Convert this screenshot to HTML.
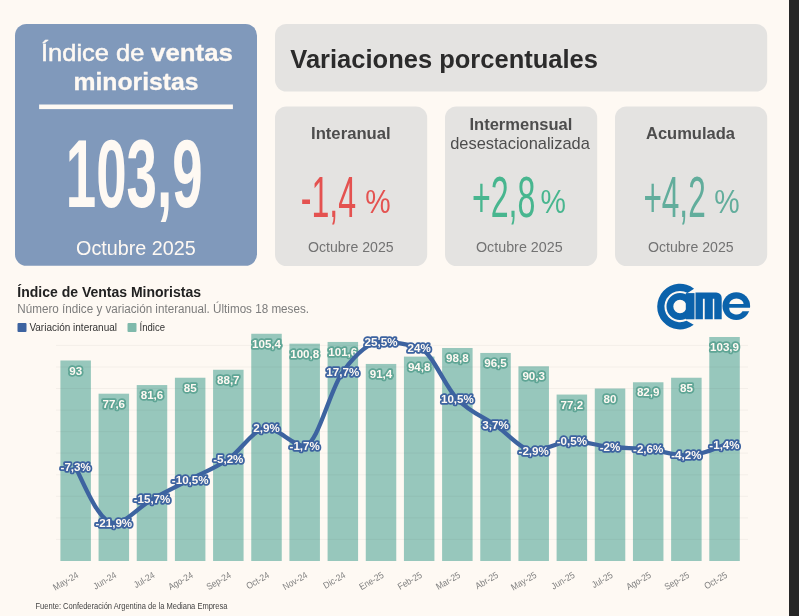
<!DOCTYPE html>
<html lang="es"><head><meta charset="utf-8"><title>Índice de ventas minoristas</title>
<style>html,body{margin:0;padding:0;background:#fef9f3;}body{width:799px;height:616px;overflow:hidden;font-family:"Liberation Sans",sans-serif;}svg{display:block;opacity:0.999;font-family:"Liberation Sans",sans-serif;}text{white-space:pre;}</style>
</head><body>
<svg width="799" height="616" viewBox="0 0 799 616">
<rect x="0" y="0" width="799" height="616" fill="#fef9f3"/>
<rect x="789.0" y="0" width="10.5" height="616" fill="#262626"/>
<rect x="15" y="24" width="242" height="241.8" rx="11.5" fill="#8099bb"/>
<g fill="#fef9f3">
<text x="41" y="60.8" font-size="24" textLength="103.3" lengthAdjust="spacingAndGlyphs" stroke="#fef9f3" stroke-width="0.5">Índice de</text>
<text x="151.1" y="60.8" font-size="24" font-weight="bold" textLength="81.8" lengthAdjust="spacingAndGlyphs" stroke="#fef9f3" stroke-width="0.3">ventas</text>
<text x="73.5" y="90" font-size="24" font-weight="bold" textLength="125" lengthAdjust="spacingAndGlyphs" stroke="#fef9f3" stroke-width="0.3">minoristas</text>
<rect x="39.1" y="104.5" width="193.8" height="4.6"/>
<text x="76" y="255" font-size="20" textLength="119.8" lengthAdjust="spacingAndGlyphs">Octubre 2025</text>
</g>
<text x="65.8" y="206.5" font-size="97" font-weight="bold" fill="#fef9f3" textLength="136.8" lengthAdjust="spacingAndGlyphs">103,9</text>
<rect x="275" y="24" width="492.2" height="67.5" rx="11.5" fill="#e4e3e1"/>
<text x="290.3" y="68" font-size="25.5" font-weight="bold" fill="#2b2b2b" textLength="307.7" lengthAdjust="spacingAndGlyphs">Variaciones porcentuales</text>
<rect x="275" y="106.5" width="152.2" height="159.5" rx="11.5" fill="#e4e3e1"/>
<rect x="445" y="106.5" width="152.2" height="159.5" rx="11.5" fill="#e4e3e1"/>
<rect x="615" y="106.5" width="152.2" height="159.5" rx="11.5" fill="#e4e3e1"/>
<g fill="#4d4d4d" font-weight="bold" font-size="17">
<text x="311" y="138.8" textLength="79.7" lengthAdjust="spacingAndGlyphs">Interanual</text>
<text x="469.5" y="130" textLength="102.8" lengthAdjust="spacingAndGlyphs">Intermensual</text>
<text x="646" y="138.8" textLength="89" lengthAdjust="spacingAndGlyphs">Acumulada</text>
</g>
<text x="450.2" y="149" font-size="17" fill="#4d4d4d" textLength="139.7" lengthAdjust="spacingAndGlyphs">desestacionalizada</text>
<g fill="#737373" font-size="14.2">
<text x="308" y="252" textLength="85.6" lengthAdjust="spacingAndGlyphs">Octubre 2025</text>
<text x="476" y="252" textLength="86.6" lengthAdjust="spacingAndGlyphs">Octubre 2025</text>
<text x="648" y="252" textLength="85.6" lengthAdjust="spacingAndGlyphs">Octubre 2025</text>
</g>
<g fill="#e45250">
<text x="300.7" y="216.8" font-size="57" textLength="55.4" lengthAdjust="spacingAndGlyphs">-1,4</text>
<text x="365.3" y="213" font-size="33" textLength="25.4" lengthAdjust="spacingAndGlyphs">%</text>
</g>
<g fill="#48b68f">
<text x="471.9" y="216.8" font-size="57" textLength="63.5" lengthAdjust="spacingAndGlyphs">+2,8</text>
<text x="540.6" y="213" font-size="33" textLength="25.4" lengthAdjust="spacingAndGlyphs">%</text>
</g>
<g fill="#62ad9c">
<text x="643.4" y="216.8" font-size="57" textLength="62.3" lengthAdjust="spacingAndGlyphs">+4,2</text>
<text x="714.3" y="213" font-size="33" textLength="25.4" lengthAdjust="spacingAndGlyphs">%</text>
</g>
<text x="17.3" y="297" font-size="13.9" font-weight="bold" fill="#222" textLength="183.7" lengthAdjust="spacingAndGlyphs">Índice de Ventas Minoristas</text>
<text x="17.3" y="312.6" font-size="12.3" fill="#7c7c7c" textLength="291.7" lengthAdjust="spacingAndGlyphs">Número índice y variación interanual. Últimos 18 meses.</text>
<rect x="17.5" y="323" width="9" height="9" rx="1" fill="#3d63a0"/>
<text x="29.4" y="331" font-size="10.3" fill="#333" textLength="87.6" lengthAdjust="spacingAndGlyphs">Variación interanual</text>
<rect x="127.5" y="323" width="9" height="9" rx="1" fill="#7fb9ab"/>
<text x="139.6" y="331" font-size="10.3" fill="#333" textLength="25.4" lengthAdjust="spacingAndGlyphs">Índice</text>
<g fill="#0b62ab">
<path d="M694.04,288.63 A22.8,22.8 0 1 0 693.72,324.81 L686.59,320.74 A15.6,15.6 0 1 1 687.56,292.96 Z"/>
<circle cx="680" cy="306.5" r="10.1" fill="none" stroke="#0b62ab" stroke-width="6.8"/>
<rect x="685.8" y="293.1" width="8.7" height="26.2"/>
<path d="M695.5,292.5 H716.2 A5.5,5.5 0 0 1 721.7,298 V319.3 H714.3 V298.75 H712.8 V319.3 H704.7 V298.75 H702.9 V319.3 H695.5 Z"/>
<mask id="em"><rect x="720" y="290" width="34" height="34" fill="#fff"/><path fill="#000" d="M729.3,304.1 A7.15,5.6 0 0 1 743.6,304.1 Z M729.2,307.7 H752 V311.3 H742.5 A7.2,6.7 0 0 1 729.2,307.7 Z"/></mask>
<circle cx="736.3" cy="306.1" r="13.85" mask="url(#em)"/>
</g>
<g fill="#97c7bc">
<rect x="60.40" y="360.49" width="30.5" height="200.51"/>
<rect x="98.57" y="393.69" width="30.5" height="167.31"/>
<rect x="136.74" y="385.07" width="30.5" height="175.93"/>
<rect x="174.91" y="377.74" width="30.5" height="183.26"/>
<rect x="213.08" y="369.76" width="30.5" height="191.24"/>
<rect x="251.25" y="333.76" width="30.5" height="227.24"/>
<rect x="289.42" y="343.68" width="30.5" height="217.32"/>
<rect x="327.59" y="341.95" width="30.5" height="219.05"/>
<rect x="365.76" y="363.94" width="30.5" height="197.06"/>
<rect x="403.93" y="356.61" width="30.5" height="204.39"/>
<rect x="442.10" y="347.99" width="30.5" height="213.01"/>
<rect x="480.27" y="352.95" width="30.5" height="208.05"/>
<rect x="518.44" y="366.31" width="30.5" height="194.69"/>
<rect x="556.61" y="394.56" width="30.5" height="166.44"/>
<rect x="594.78" y="388.52" width="30.5" height="172.48"/>
<rect x="632.95" y="382.27" width="30.5" height="178.73"/>
<rect x="671.12" y="377.74" width="30.5" height="183.26"/>
<rect x="709.29" y="336.99" width="30.5" height="224.01"/>
</g>
<g stroke="#3c3c3c" stroke-opacity="0.05" stroke-width="1">
<line x1="56" y1="539.4" x2="748" y2="539.4"/>
<line x1="56" y1="517.9" x2="748" y2="517.9"/>
<line x1="56" y1="496.3" x2="748" y2="496.3"/>
<line x1="56" y1="474.8" x2="748" y2="474.8"/>
<line x1="56" y1="453.2" x2="748" y2="453.2"/>
<line x1="56" y1="431.6" x2="748" y2="431.6"/>
<line x1="56" y1="410.1" x2="748" y2="410.1"/>
<line x1="56" y1="388.5" x2="748" y2="388.5"/>
<line x1="56" y1="367.0" x2="748" y2="367.0"/>
<line x1="56" y1="345.4" x2="748" y2="345.4"/>
</g>
<g font-size="11.6" font-weight="bold" text-anchor="middle" fill="#fef9f3" stroke="#5fa595" stroke-width="3.6" stroke-linejoin="round" paint-order="stroke">
<text x="75.7" y="374.6">93</text>
<text x="113.8" y="407.8">77,6</text>
<text x="152.0" y="399.2">81,6</text>
<text x="190.2" y="391.8">85</text>
<text x="228.3" y="383.9">88,7</text>
<text x="266.5" y="347.9">105,4</text>
<text x="304.7" y="357.8">100,8</text>
<text x="342.8" y="356.1">101,6</text>
<text x="381.0" y="378.0">91,4</text>
<text x="419.2" y="370.7">94,8</text>
<text x="457.4" y="362.1">98,8</text>
<text x="495.5" y="367.0">96,5</text>
<text x="533.7" y="380.4">90,3</text>
<text x="571.9" y="408.7">77,2</text>
<text x="610.0" y="402.6">80</text>
<text x="648.2" y="396.4">82,9</text>
<text x="686.4" y="391.8">85</text>
<text x="724.5" y="351.1">103,9</text>
</g>
<path d="M75.65,467.19C88.37,495.07 101.10,522.96 113.82,522.96C126.54,522.96 139.27,506.53 151.99,499.27C164.71,492.02 177.44,486.10 190.16,479.41C202.88,472.73 215.61,467.70 228.33,459.16C241.05,450.63 253.78,428.22 266.50,428.22C279.22,428.22 291.95,445.79 304.67,445.79C317.39,445.79 330.12,389.00 342.84,371.69C355.56,354.37 368.29,341.89 381.01,341.89C393.73,341.89 406.46,343.80 419.18,347.62C431.90,351.44 444.63,386.27 457.35,399.19C470.07,412.11 482.80,416.63 495.52,425.17C508.24,433.70 520.97,450.38 533.69,450.38C546.41,450.38 559.14,441.21 571.86,441.21C584.58,441.21 597.31,445.60 610.03,446.94C622.75,448.28 635.48,447.83 648.20,449.23C660.92,450.63 673.65,455.34 686.37,455.34C699.09,455.34 711.82,450.00 724.54,444.65" fill="none" stroke="#3d63a0" stroke-width="4.3" stroke-linejoin="round" stroke-linecap="round"/>
<g font-size="11.6" font-weight="bold" text-anchor="middle" fill="#fef9f3" stroke="#3d63a0" stroke-width="3.6" stroke-linejoin="round" paint-order="stroke">
<text x="75.7" y="471.3">-7,3%</text>
<text x="113.8" y="527.1">-21,9%</text>
<text x="152.0" y="503.4">-15,7%</text>
<text x="190.2" y="483.5">-10,5%</text>
<text x="228.3" y="463.3">-5,2%</text>
<text x="266.5" y="432.3">2,9%</text>
<text x="304.7" y="449.9">-1,7%</text>
<text x="342.8" y="375.8">17,7%</text>
<text x="381.0" y="346.0">25,5%</text>
<text x="419.2" y="351.7">24%</text>
<text x="457.4" y="403.3">10,5%</text>
<text x="495.5" y="429.3">3,7%</text>
<text x="533.7" y="454.5">-2,9%</text>
<text x="571.9" y="445.3">-0,5%</text>
<text x="610.0" y="451.0">-2%</text>
<text x="648.2" y="453.3">-2,6%</text>
<text x="686.4" y="459.4">-4,2%</text>
<text x="724.5" y="448.7">-1,4%</text>
</g>
<g font-size="9.3" fill="#808080" text-anchor="end">
<text transform="translate(79.2,577.0) rotate(-30) scale(0.89,1)">May-24</text>
<text transform="translate(117.3,577.0) rotate(-30) scale(0.89,1)">Jun-24</text>
<text transform="translate(155.5,577.0) rotate(-30) scale(0.89,1)">Jul-24</text>
<text transform="translate(193.7,577.0) rotate(-30) scale(0.89,1)">Ago-24</text>
<text transform="translate(231.8,577.0) rotate(-30) scale(0.89,1)">Sep-24</text>
<text transform="translate(270.0,577.0) rotate(-30) scale(0.89,1)">Oct-24</text>
<text transform="translate(308.2,577.0) rotate(-30) scale(0.89,1)">Nov-24</text>
<text transform="translate(346.3,577.0) rotate(-30) scale(0.89,1)">Dic-24</text>
<text transform="translate(384.5,577.0) rotate(-30) scale(0.89,1)">Ene-25</text>
<text transform="translate(422.7,577.0) rotate(-30) scale(0.89,1)">Feb-25</text>
<text transform="translate(460.9,577.0) rotate(-30) scale(0.89,1)">Mar-25</text>
<text transform="translate(499.0,577.0) rotate(-30) scale(0.89,1)">Abr-25</text>
<text transform="translate(537.2,577.0) rotate(-30) scale(0.89,1)">May-25</text>
<text transform="translate(575.4,577.0) rotate(-30) scale(0.89,1)">Jun-25</text>
<text transform="translate(613.5,577.0) rotate(-30) scale(0.89,1)">Jul-25</text>
<text transform="translate(651.7,577.0) rotate(-30) scale(0.89,1)">Ago-25</text>
<text transform="translate(689.9,577.0) rotate(-30) scale(0.89,1)">Sep-25</text>
<text transform="translate(728.0,577.0) rotate(-30) scale(0.89,1)">Oct-25</text>
</g>
<text x="35.5" y="608.7" font-size="8.8" fill="#444" textLength="192" lengthAdjust="spacingAndGlyphs">Fuente: Confederación Argentina de la Mediana Empresa</text>
</svg>
</body></html>
